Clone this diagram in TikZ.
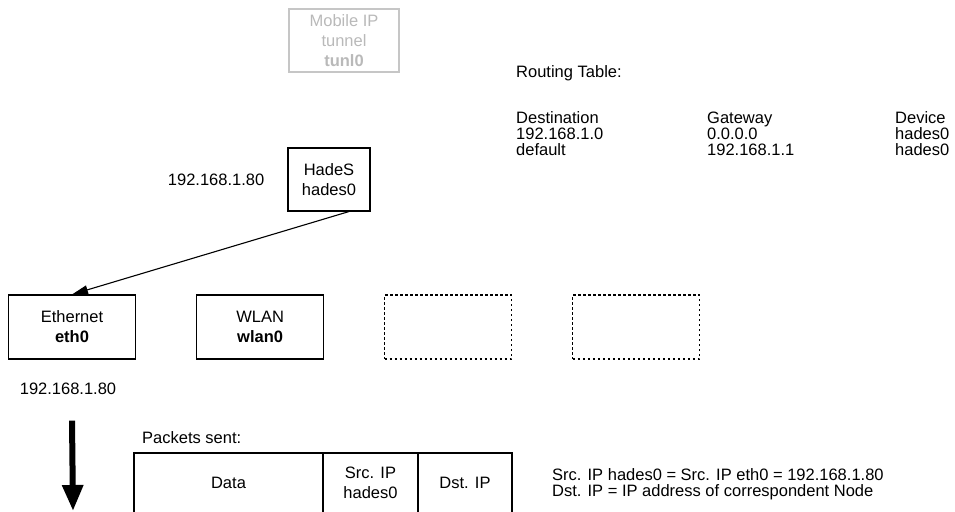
\documentclass[tikz,border=0pt]{standalone}
\usepackage{fontspec}
\setmainfont{Liberation Sans}
\usetikzlibrary{positioning,arrows.meta}

\begin{document}
\begin{tikzpicture}[
    x=1pt, y=-1pt,
    node distance=60pt,
    every node/.style={font=\fontsize{16.5}{20}\selectfont, inner sep=0pt},
    iface/.style={rectangle, draw, line width=1.1pt, minimum width=127pt, minimum height=64pt, align=center},
    spare/.style={iface, dash pattern=on 2.5pt off 2.5pt},
    cell/.style={rectangle, draw, line width=1.1pt, outer sep=0pt, minimum height=60pt, align=center},
    listing/.style={anchor=west, align=left, font=\fontsize{16.5}{16}\selectfont},
    arrow/.style={-{Triangle[length=16pt,width=9pt]}, line width=1.1pt},
    bigarrow/.style={-{Triangle[length=26pt,width=20pt]}, line width=6pt},
]
\useasboundingbox (0,0) rectangle (955,511);
% host side
\node[iface, draw=gray!45, text=gray!55, minimum width=110pt, minimum height=63pt] (tunnel) at (344,40.5) {Mobile IP\\tunnel\\\textbf{tunl0}};
\node[iface, minimum width=82pt, minimum height=63pt] (hades) at (329,179.5) {HadeS\\hades0};
\node[left=23pt of hades] (hadesip) {192.168.1.80};
% interfaces
\node[iface] (eth) at (72,327) {Ethernet\\\textbf{eth0}};
\node[iface, right=of eth] (wlan) {WLAN\\\textbf{wlan0}};
\node[spare, right=of wlan] (spare1) {};
\node[spare, right=of spare1] (spare2) {};
\node[below=23pt of eth, xshift=-4pt] (ethip) {192.168.1.80};
% routing table
\node[anchor=west] (rtitle) at (516,73) {Routing Table:};
\node[listing] (dest) at (516,134) {Destination\\192.168.1.0\\default};
\node[listing] (gw) at (707,134) {Gateway\\0.0.0.0\\192.168.1.1};
\node[listing] (dev) at (895,134) {Device\\hades0\\hades0};
% packets
\node[anchor=west] (ptitle) at (142,438) {Packets sent:};
\node[cell, minimum width=189pt] (data) at (228.5,483) {Data};
\node[cell, minimum width=95pt, right=0pt of data] (srcip) {Src. IP\\hades0};
\node[cell, minimum width=94pt, right=0pt of srcip] (dstip) {Dst. IP};
\node[listing] (note) at (552,484) {Src. IP hades0 = Src. IP eth0 = 192.168.1.80\\Dst. IP = IP address of correspondent Node};
% connectors
\coordinate[below=61pt of eth.south] (sendtop);
\coordinate (sendend) at (73,511);
\draw[arrow] ([xshift=20pt]hades.south) -- (eth.north);
\draw[bigarrow] (sendtop) -- (sendend);
\end{tikzpicture}
\end{document}
